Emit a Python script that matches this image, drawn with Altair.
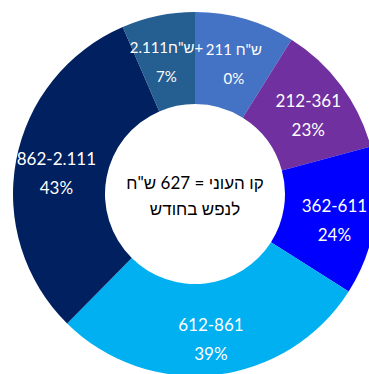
import altair as alt
import pandas as pd

categories = ["211 ש\"ח", "212-361", "362-611", "612-861", "862-2.111", "2.111ש\"ח+"]
shares = [8.9, 11.9, 13.2, 28.4, 31.1, 6.5]
pct_labels = ["0%", "23%", "24%", "39%", "43%", "7%"]
colors = ["#4472C4", "#7030A0", "#0000FF", "#00B0F0", "#002060", "#255E91"]
center_text = "קו העוני = 627 ש\"ח\nלנפש בחודש"

df = pd.DataFrame({
    "cat": categories,
    "share": shares,
    "idx": list(range(len(categories))),
    "label": [f"{c}\n{p}" for c, p in zip(categories, pct_labels)],
})

CX, CY = 195, 194
FONT = "Lato, Liberation Sans, sans-serif"

base = alt.Chart(df).encode(
    theta=alt.Theta("share:Q", stack=True),
    order=alt.Order("idx:Q"),
)

arcs = base.mark_arc(outerRadius=182, innerRadius=90, stroke=None).encode(
    x=alt.value(CX), y=alt.value(CY),
    color=alt.Color("cat:N", scale=alt.Scale(domain=categories, range=colors), legend=None),
)

labels = base.mark_text(radius=141, color="white", font=FONT,
                        lineBreak="\n", lineHeight=29, baseline="middle", align="center",
                        dy=-8).encode(
    x=alt.value(CX), y=alt.value(CY),
    text="label:N",
    size=alt.condition((alt.datum.idx == 0) | (alt.datum.idx == 5), alt.value(15), alt.value(17)),
)

center = alt.Chart(pd.DataFrame({"t": [center_text]})).mark_text(
    fontSize=17, font=FONT, color="black", lineBreak="\n", lineHeight=26,
    baseline="middle", align="center", dy=-10,
).encode(x=alt.value(CX), y=alt.value(CY), text="t:N")

chart = alt.layer(arcs, labels, center).properties(
    width=369, height=374, padding=0, autosize="none"
).configure_view(stroke=None)

chart.save("out.html", embed_options={"renderer": "svg", "actions": False})
